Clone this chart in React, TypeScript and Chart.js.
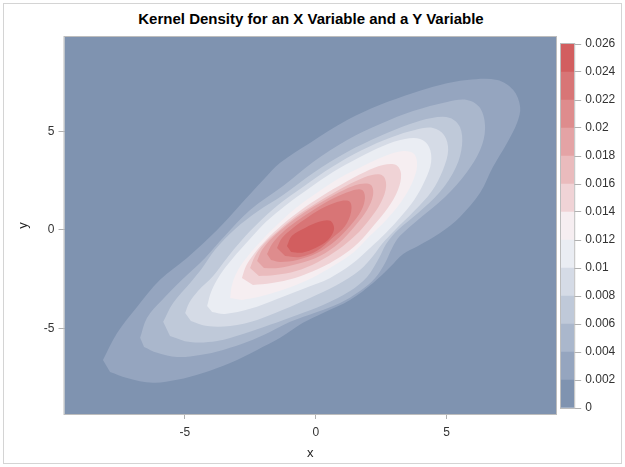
import React, { useEffect, useRef } from 'react';
import Chart from 'chart.js/auto';

const titleText = 'Kernel Density for an X Variable and a Y Variable';
const xTicks = [-5, 0, 5];
const yTicks = [-5, 0, 5];
const xRange = [-9.6, 9.18];
const yRange = [-9.33, 9.78];

// density levels shown in the colour bar
const levels = [0, 0.002, 0.004, 0.006, 0.008, 0.01, 0.012, 0.014, 0.016, 0.018, 0.02, 0.022, 0.024, 0.026];
const bandColors = [
  '#7F93B0', '#95A5BF', '#AAB7CC', '#BFC9D9', '#D5DBE6', '#EAEDF3', '#F6EEF1',
  '#F0D3D6', '#EABBBD', '#E4A3A5', '#DE8C8D', '#D87576', '#D25E5F',
];

// contour outlines (x, y), one per level
const c002 = [[-8.13,-6.59],[-7.59,-5.22],[-6.83,-3.9],[-5.95,-2.53],[-4.92,-1.42],[-3.77,0],[-2.89,1.27],[-2.01,2.53],[-1.36,3.4],[-0.22,4.41],[1.2,5.57],[2.46,6.34],[3.72,6.94],[4.75,7.35],[5.78,7.6],[6.93,7.6],[7.54,7.1],[7.81,6.23],[7.69,5.42],[7.31,4.41],[6.77,3.19],[6.28,1.88],[5.51,0.66],[4.75,-0.15],[3.91,-0.81],[3.34,-1.22],[2.84,-1.88],[2.19,-2.69],[1.31,-3.55],[0.28,-4.21],[-0.49,-4.71],[-1.36,-5.47],[-2.24,-6.08],[-3.27,-6.74],[-4.31,-7.25],[-5.3,-7.6],[-6.22,-7.75],[-7.21,-7.5],[-7.86,-7.2]];
const c004 = [[-6.71,-5.47],[-6.45,-4.46],[-5.87,-3.55],[-5.11,-2.53],[-4.23,-1.42],[-3.47,-0.3],[-2.51,1.01],[-1.25,2.23],[-0.1,3.45],[1.2,4.56],[2.46,5.37],[3.72,6.03],[5.02,6.49],[5.78,6.59],[6.28,6.18],[6.47,5.17],[6.28,4.05],[5.78,2.94],[4.94,1.67],[3.99,0.61],[3.22,-0.3],[2.92,-0.91],[2.65,-1.67],[2.27,-2.43],[1.69,-3.09],[0.93,-3.7],[0.05,-4.16],[-0.98,-4.66],[-1.75,-5.17],[-2.63,-5.68],[-3.54,-6.08],[-4.42,-6.34],[-5.3,-6.44],[-6.06,-6.23],[-6.56,-5.93]];
const c006 = [[-5.83,-4.66],[-5.45,-3.7],[-4.8,-2.69],[-4.31,-1.88],[-3.85,-1.01],[-3.08,0.05],[-2.2,0.96],[-1.25,1.77],[-0.1,2.89],[1.2,3.95],[2.46,4.76],[3.6,5.37],[4.44,5.68],[5.13,5.68],[5.51,5.22],[5.59,4.31],[5.36,3.19],[4.75,1.93],[3.91,0.86],[3.14,0],[2.69,-0.71],[2.42,-1.42],[1.96,-2.38],[1.31,-3.09],[0.28,-3.8],[-0.71,-4.31],[-1.75,-4.81],[-2.78,-5.27],[-3.77,-5.63],[-4.8,-5.68],[-5.57,-5.37]];
const c008 = [[-4.99,-4.21],[-4.84,-3.7],[-4.5,-3.09],[-3.92,-2.33],[-3.39,-1.42],[-2.82,-0.51],[-2.2,0.35],[-1.44,1.27],[-0.49,2.18],[0.62,3.19],[1.77,4.05],[2.92,4.71],[3.79,5.07],[4.48,5.17],[4.9,4.81],[5.06,4.05],[4.86,3.04],[4.44,1.98],[3.76,0.96],[3.03,0],[2.53,-0.71],[2.19,-1.32],[1.69,-2.03],[0.81,-2.79],[-0.22,-3.45],[-1.25,-4.05],[-2.24,-4.56],[-3.27,-4.87],[-4.15,-4.87],[-4.77,-4.61]];
const c010 = [[-4.15,-3.85],[-4.0,-3.14],[-3.66,-2.28],[-3.16,-1.42],[-2.55,-0.51],[-1.9,0.41],[-1.13,1.27],[-0.29,2.08],[0.66,2.94],[1.62,3.65],[2.57,4.26],[3.41,4.61],[3.99,4.61],[4.33,4.21],[4.41,3.45],[4.18,2.53],[3.76,1.52],[3.14,0.51],[2.53,-0.35],[2.0,-1.01],[1.39,-1.72],[0.55,-2.43],[-0.49,-2.99],[-1.48,-3.5],[-2.51,-4.0],[-3.47,-4.26],[-3.96,-4.16]];
const c012 = [[-3.27,-3.45],[-3.2,-2.79],[-2.97,-2.03],[-2.59,-1.32],[-2.05,-0.51],[-1.44,0.3],[-0.75,1.12],[0.05,1.88],[0.93,2.64],[1.81,3.24],[2.65,3.75],[3.34,4.0],[3.76,3.85],[3.87,3.24],[3.68,2.38],[3.26,1.42],[2.69,0.51],[2.07,-0.3],[1.46,-1.12],[0.74,-1.77],[-0.14,-2.43],[-1.06,-2.94],[-2.05,-3.35],[-2.82,-3.55]];
const c014 = [[-2.82,-2.43],[-2.66,-1.82],[-2.36,-1.22],[-1.9,-0.51],[-1.29,0.25],[-0.56,1.01],[0.24,1.72],[1.08,2.38],[1.88,2.94],[2.57,3.29],[3.07,3.29],[3.26,2.84],[3.14,2.03],[2.76,1.12],[2.23,0.25],[1.62,-0.66],[0.93,-1.37],[0.09,-1.98],[-0.79,-2.43],[-1.67,-2.69],[-2.4,-2.79]];
const c016 = [[-2.51,-1.93],[-2.32,-1.32],[-1.98,-0.71],[-1.44,-0.05],[-0.79,0.66],[-0.03,1.32],[0.81,1.98],[1.54,2.48],[2.15,2.79],[2.57,2.74],[2.69,2.23],[2.5,1.42],[2.07,0.56],[1.5,-0.3],[0.85,-1.01],[0.09,-1.62],[-0.75,-2.08],[-1.56,-2.28],[-2.17,-2.33]];
const c018 = [[-2.24,-1.57],[-2.05,-1.01],[-1.67,-0.41],[-1.1,0.25],[-0.41,0.91],[0.36,1.52],[1.08,2.03],[1.69,2.33],[2.11,2.28],[2.19,1.77],[1.96,1.01],[1.5,0.2],[0.89,-0.66],[0.16,-1.32],[-0.68,-1.72],[-1.44,-1.93],[-1.98,-1.93]];
const c020 = [[-1.86,-1.22],[-1.67,-0.71],[-1.29,-0.15],[-0.71,0.46],[-0.03,1.06],[0.7,1.62],[1.35,1.98],[1.77,2.03],[1.88,1.62],[1.73,0.96],[1.31,0.2],[0.74,-0.56],[0.05,-1.17],[-0.71,-1.52],[-1.36,-1.62],[-1.71,-1.52]];
const c022 = [[-1.48,-0.91],[-1.29,-0.41],[-0.87,0.1],[-0.29,0.66],[0.36,1.17],[0.97,1.47],[1.31,1.42],[1.35,0.91],[1.12,0.2],[0.62,-0.42],[0.05,-1.06],[-0.6,-1.37],[-1.17,-1.32]];
const c024 = [[-1.1,-0.81],[-0.91,-0.3],[-0.41,0.1],[0.13,0.41],[0.55,0.46],[0.7,0.05],[0.47,-0.51],[0.01,-0.9],[-0.52,-1.15],[-0.94,-1.12]];

const contours = [c002, c004, c006, c008, c010, c012, c014, c016, c018, c020, c022, c024];

const FONT = "'Liberation Sans', Arial, sans-serif";

// fills the plot area with the lowest band and outlines it
const plotFrame = {
  id: 'plotFrame',
  beforeDatasetsDraw(chart: any) {
    const { ctx, chartArea: a } = chart;
    ctx.save();
    ctx.fillStyle = bandColors[0];
    ctx.fillRect(a.left, a.top, a.width, a.height);
    ctx.restore();
  },
  afterDatasetsDraw(chart: any) {
    const { ctx, chartArea: a } = chart;
    ctx.save();
    ctx.strokeStyle = '#BDBDBD';
    ctx.lineWidth = 1;
    ctx.strokeRect(a.left - 0.5, a.top - 0.5, a.width + 1, a.height + 1);
    ctx.restore();
  },
};

const fmt = (v: number) => String(Number(v.toFixed(3)));

const App: React.FC = () => {
  const plotRef = useRef<HTMLCanvasElement>(null);
  const barRef = useRef<HTMLCanvasElement>(null);

  useEffect(() => {
    if (!plotRef.current || !barRef.current) return;
    Chart.defaults.font.family = FONT;

    const plot = new Chart(plotRef.current, {
      type: 'scatter',
      data: {
        datasets: contours.map((pts, i) => ({
          label: fmt(levels[i + 1]),
          data: pts.map(([x, y]) => ({ x, y })),
          showLine: true,
          fill: 'shape',
          backgroundColor: bandColors[i + 1],
          borderWidth: 0,
          borderColor: 'rgba(0,0,0,0)',
          pointRadius: 0,
          tension: 0.35,
          order: contours.length - i,
        })),
      },
      options: {
        animation: false,
        responsive: true,
        maintainAspectRatio: false,
        layout: { padding: { right: 4, top: 37 } },
        plugins: {
          legend: { display: false },
          tooltip: { enabled: false },
        },
        scales: {
          x: {
            type: 'linear',
            min: xRange[0],
            max: xRange[1],
            afterBuildTicks: (s: any) => { s.ticks = xTicks.map((v) => ({ value: v })); },
            afterFit: (s: any) => { s.height = 53; },
            grid: { drawOnChartArea: false, tickLength: 5, color: '#B0B0B0' },
            border: { display: false },
            ticks: { color: '#333', font: { size: 12 }, padding: 6, maxRotation: 0 },
            title: { display: true, text: 'x', color: '#222', font: { size: 13 }, padding: { top: 0, bottom: 6 } },
          },
          y: {
            type: 'linear',
            min: yRange[0],
            max: yRange[1],
            afterBuildTicks: (s: any) => { s.ticks = yTicks.map((v) => ({ value: v })); },
            afterFit: (s: any) => { s.width = 64.5; },
            grid: { drawOnChartArea: false, tickLength: 6, color: '#B0B0B0' },
            border: { display: false },
            ticks: { color: '#333', font: { size: 12 }, padding: 4 },
            title: { display: true, text: 'y', color: '#222', font: { size: 13 }, padding: { top: 16, bottom: 0 } },
          },
        },
      },
      plugins: [plotFrame],
    });

    const bar = new Chart(barRef.current, {
      type: 'bar',
      data: {
        labels: [''],
        datasets: bandColors.map((c, i) => ({
          data: [[levels[i], levels[i + 1]]] as any,
          backgroundColor: c,
          borderWidth: 0,
          grouped: false,
          barPercentage: 1,
          categoryPercentage: 1,
        })),
      },
      options: {
        animation: false,
        responsive: true,
        maintainAspectRatio: false,
        layout: { padding: { left: 5, top: 44, bottom: 59 } },
        plugins: { legend: { display: false }, tooltip: { enabled: false } },
        scales: {
          x: { display: false },
          y: {
            position: 'right',
            min: levels[0],
            max: levels[levels.length - 1],
            afterBuildTicks: (s: any) => { s.ticks = levels.map((v) => ({ value: v })); },
            afterFit: (s: any) => { s.width = 50.8; },
            grid: { drawOnChartArea: false, tickLength: 7, color: '#B0B0B0' },
            border: { display: false },
            ticks: { color: '#333', font: { size: 12 }, padding: 4, callback: (v: any) => fmt(Number(v)) },
          },
        },
      },
      plugins: [{
        id: 'barFrame',
        afterDatasetsDraw(chart: any) {
          const { ctx, chartArea: a } = chart;
          ctx.save();
          ctx.strokeStyle = '#BDBDBD';
          ctx.strokeRect(a.left - 0.5, a.top - 0.5, a.width + 1, a.height + 1);
          ctx.restore();
        },
      }],
    });

    return () => {
      plot.destroy();
      bar.destroy();
    };
  }, []);

  return (
    <div style={{ position: 'absolute', left: 0, top: 0, width: 625, height: 467, background: '#fff' }}>
      <div style={{ position: 'absolute', left: 3, top: 3, width: 617, height: 459, border: '1px solid #D4D4D4' }} />
      <div
        style={{
          position: 'absolute', left: 0, top: 9, width: 622, height: 20, lineHeight: '20px',
          textAlign: 'center', fontFamily: FONT, fontWeight: 'bold', fontSize: 15, color: '#000',
        }}
      >
        {titleText}
      </div>
      <div style={{ position: 'absolute', left: 0, top: 0, width: 560, height: 467 }}>
        <canvas ref={plotRef}></canvas>
      </div>
      <div style={{ position: 'absolute', left: 556, top: 0, width: 69, height: 467 }}>
        <canvas ref={barRef}></canvas>
      </div>
    </div>
  );
};

export default App;
